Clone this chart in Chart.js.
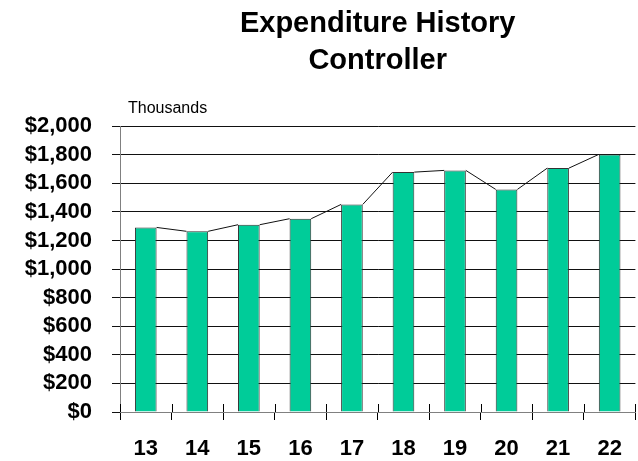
<!DOCTYPE html>
<html>
<head>
<meta charset="utf-8">
<script src="https://cdn.jsdelivr.net/npm/chart.js@4/dist/chart.umd.min.js"></script>
<style>
  html, body { margin: 0; padding: 0; background: #fff; }
  #wrap { width: 638px; height: 461px; position: relative; }
</style>
</head>
<body>
<div id="wrap"><canvas id="chart"></canvas></div>
<script>
const FONT = "'Liberation Sans', Arial, sans-serif";

// data (thousands of dollars)
const anos = ["13", "14", "15", "16", "17", "18", "19", "20", "21", "22"];
const gastos = [1291, 1264, 1310, 1352, 1452, 1678, 1690, 1557, 1706, 1802];
const tituloLinhas = ["Expenditure History", "Controller"];
const unidade = "Thousands";

/* ===========================
   PLUGIN: series lines + "Thousands"
=========================== */
const extrasPlugin = {
    id: "extras",
    afterDatasetsDraw(chart) {
        const ctx = chart.ctx;
        const meta = chart.getDatasetMeta(0);
        const area = chart.chartArea;
        const xs = chart.scales.x;

        ctx.save();
        // linhas entre o topo de cada barra e a seguinte
        ctx.strokeStyle = "#111";
        ctx.lineWidth = 1;
        ctx.beginPath();
        for (let i = 0; i < meta.data.length - 1; i++) {
            const a = meta.data[i];
            const b = meta.data[i + 1];
            ctx.moveTo(a.x + a.width / 2, a.y);
            ctx.lineTo(b.x - b.width / 2, b.y);
        }
        ctx.stroke();

        // marcas do eixo x que cruzam o eixo (parte interna)
        ctx.strokeStyle = "#000";
        ctx.beginPath();
        for (let i = 0; i <= anos.length; i++) {
            const x = Math.round(xs.getPixelForValue(i - 0.5)) + 0.5;
            ctx.moveTo(x, area.bottom);
            ctx.lineTo(x, area.bottom - 8);
        }
        ctx.stroke();

        // unidade
        ctx.fillStyle = "#000";
        ctx.font = `16px ${FONT}`;
        ctx.textAlign = "left";
        ctx.textBaseline = "alphabetic";
        ctx.fillText(unidade, area.left + 8, area.top - 13);
        ctx.restore();
    }
};

/* ===========================
   CHART
=========================== */
new Chart(document.getElementById("chart"), {
    type: "bar",
    data: {
        labels: anos,
        datasets: [{
            data: gastos,
            backgroundColor: "#00CC99",
            borderColor: "#333",
            borderWidth: 1,
            barPercentage: 0.42,
            categoryPercentage: 1
        }]
    },
    options: {
        responsive: true,
        maintainAspectRatio: false,
        animation: false,
        layout: { padding: { top: 0, right: 1, left: 0, bottom: 0 } },
        plugins: {
            legend: { display: false },
            tooltip: { enabled: false },
            title: {
                display: true,
                text: tituloLinhas,
                fullSize: false,
                color: "#000",
                font: { family: FONT, size: 29, weight: "bold", lineHeight: 1.26 },
                padding: { top: 6, bottom: 47 }
            }
        },
        scales: {
            x: {
                offset: true,
                grid: {
                    offset: true,
                    drawOnChartArea: false,
                    color: "#000",
                    tickLength: 8
                },
                border: { color: "#808080", width: 1 },
                ticks: {
                    color: "#000",
                    padding: 16,
                    font: { family: FONT, size: 22, weight: "bold" }
                },
                afterFit: s => { s.height = 49; }
            },
            y: {
                min: 0,
                max: 2000,
                grid: {
                    color: "#111",
                    lineWidth: 1,
                    tickLength: 8
                },
                border: { color: "#808080", width: 1 },
                ticks: {
                    stepSize: 200,
                    autoSkip: false,
                    color: "#000",
                    padding: 20,
                    font: { family: FONT, size: 22, weight: "bold" },
                    callback: v => "$" + v.toLocaleString("en-US")
                },
                afterFit: s => { s.width = 120; }
            }
        }
    },
    plugins: [extrasPlugin]
});
</script>
</body>
</html>
